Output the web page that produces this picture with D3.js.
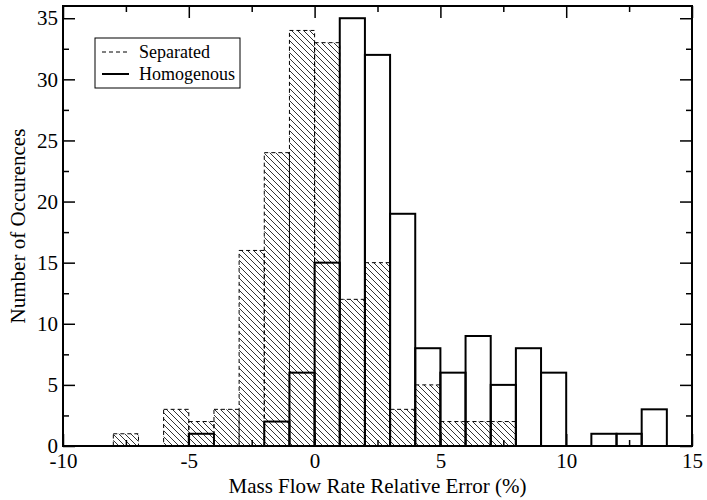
<!DOCTYPE html>
<html>
<head>
<meta charset="utf-8">
<script src="https://cdn.jsdelivr.net/npm/d3@7"></script>
<style>
  body { margin: 0; background: #fff; }
  svg { display: block; }
</style>
</head>
<body>
<svg id="chart" width="707" height="500"></svg>
<script>
const FONT = "'Liberation Serif', 'Times New Roman', serif";

// bin left edges (bin width 1 %)
const binStarts = [-10, -9, -8, -7, -6, -5, -4, -3, -2, -1, 0, 1, 2, 3, 4, 5, 6, 7, 8, 9, 10, 11, 12, 13, 14];
const separated = [0, 0, 1, 0, 3, 2, 3, 16, 24, 34, 33, 12, 15, 3, 5, 2, 2, 2, 0, 0, 0, 0, 0, 0, 0];
const homogenous = [0, 0, 0, 0, 0, 1, 0, 0, 2, 6, 15, 35, 32, 19, 8, 6, 9, 5, 8, 6, 0, 1, 1, 3, 0];
const binWidth = 1;
const xMajor = [-10, -5, 0, 5, 10, 15];
const xMinor = [-7.5, -2.5, 2.5, 7.5, 12.5];
const yMajor = [0, 5, 10, 15, 20, 25, 30, 35];
const yMinor = [2.5, 7.5, 12.5, 17.5, 22.5, 27.5, 32.5];
const seriesNames = ["Separated", "Homogenous"];

const margin = { top: 6, right: 15, bottom: 54, left: 63 };
const svg = d3.select("#chart");
const width = +svg.attr("width") - margin.left - margin.right;
const height = +svg.attr("height") - margin.top - margin.bottom;

const x = d3.scaleLinear().domain([-10, 15]).range([0, width]);
const y = d3.scaleLinear().domain([0, 36]).range([height, 0]);

// hatch pattern
const defs = svg.append("defs");
const pat = defs.append("pattern")
  .attr("id", "hatch")
  .attr("patternUnits", "userSpaceOnUse")
  .attr("width", 6)
  .attr("height", 6);
pat.append("path")
  .attr("d", "M0,0 L6,6 M-1,5 L1,7 M5,-1 L7,1")
  .attr("stroke", "#000")
  .attr("stroke-width", 0.8);

const g = svg.append("g").attr("transform", `translate(${margin.left},${margin.top})`);

const sepData = binStarts.map((b, i) => ({ x0: b, v: separated[i] })).filter(d => d.v > 0);
const homData = binStarts.map((b, i) => ({ x0: b, v: homogenous[i] })).filter(d => d.v > 0);

g.selectAll(".sep")
  .data(sepData)
  .join("rect")
  .attr("class", "sep")
  .attr("x", d => x(d.x0))
  .attr("y", d => y(d.v))
  .attr("width", d => x(d.x0 + binWidth) - x(d.x0))
  .attr("height", d => y(0) - y(d.v))
  .attr("fill", "url(#hatch)")
  .attr("stroke", "#000")
  .attr("stroke-width", 1)
  .attr("stroke-dasharray", "4,3");

g.selectAll(".hom")
  .data(homData)
  .join("rect")
  .attr("class", "hom")
  .attr("x", d => x(d.x0))
  .attr("y", d => y(d.v))
  .attr("width", d => x(d.x0 + binWidth) - x(d.x0))
  .attr("height", d => y(0) - y(d.v))
  .attr("fill", "none")
  .attr("stroke", "#000")
  .attr("stroke-width", 2);

// axes: ticks inward on all four sides
function styleAxis(sel) {
  sel.attr("font-family", FONT).attr("font-size", 21);
  sel.select(".domain").remove();
  sel.selectAll(".tick line").attr("stroke", "#000").attr("stroke-width", 1.5);
  sel.selectAll("text").attr("fill", "#000").attr("font-family", FONT).attr("font-size", 21);
}

const fmt = d => String(d);
g.append("g").attr("transform", `translate(0,${height})`)
  .call(d3.axisBottom(x).tickValues(xMajor).tickSize(-12).tickPadding(7).tickFormat(fmt))
  .call(styleAxis);
g.append("g").attr("transform", `translate(0,${height})`)
  .call(d3.axisBottom(x).tickValues(xMinor).tickSize(-6).tickFormat(""))
  .call(styleAxis);
g.append("g")
  .call(d3.axisTop(x).tickValues(xMajor).tickSize(-12).tickFormat(""))
  .call(styleAxis);
g.append("g")
  .call(d3.axisTop(x).tickValues(xMinor).tickSize(-6).tickFormat(""))
  .call(styleAxis);
g.append("g")
  .call(d3.axisLeft(y).tickValues(yMajor).tickSize(-12).tickPadding(5).tickFormat(fmt))
  .call(styleAxis);
g.append("g")
  .call(d3.axisLeft(y).tickValues(yMinor).tickSize(-6).tickFormat(""))
  .call(styleAxis);
g.append("g").attr("transform", `translate(${width},0)`)
  .call(d3.axisRight(y).tickValues(yMajor).tickSize(-12).tickFormat(""))
  .call(styleAxis);
g.append("g").attr("transform", `translate(${width},0)`)
  .call(d3.axisRight(y).tickValues(yMinor).tickSize(-6).tickFormat(""))
  .call(styleAxis);

// frame
g.append("rect")
  .attr("width", width)
  .attr("height", height)
  .attr("fill", "none")
  .attr("stroke", "#000")
  .attr("stroke-width", 2);

// axis titles
svg.append("text")
  .attr("x", margin.left + width / 2)
  .attr("y", 493)
  .attr("text-anchor", "middle")
  .attr("font-family", FONT)
  .attr("font-size", 21)
  .text("Mass Flow Rate Relative Error (%)");
svg.append("text")
  .attr("transform", `translate(25,${margin.top + height / 2}) rotate(-90)`)
  .attr("text-anchor", "middle")
  .attr("font-family", FONT)
  .attr("font-size", 21)
  .text("Number of Occurences");

// legend
const leg = svg.append("g").attr("transform", "translate(95,38)");
leg.append("rect")
  .attr("width", 145)
  .attr("height", 50)
  .attr("fill", "#fff")
  .attr("stroke", "#000")
  .attr("stroke-width", 1);
seriesNames.forEach((name, i) => {
  const yy = 14 + i * 22;
  leg.append("line")
    .attr("x1", 7).attr("x2", 34)
    .attr("y1", yy).attr("y2", yy)
    .attr("stroke", "#000")
    .attr("stroke-width", i === 0 ? 1 : 2)
    .attr("stroke-dasharray", i === 0 ? "4,3" : null);
  leg.append("text")
    .attr("x", 44)
    .attr("y", yy + 6)
    .attr("font-family", FONT)
    .attr("font-size", 18)
    .text(name);
});
</script>
</body>
</html>
